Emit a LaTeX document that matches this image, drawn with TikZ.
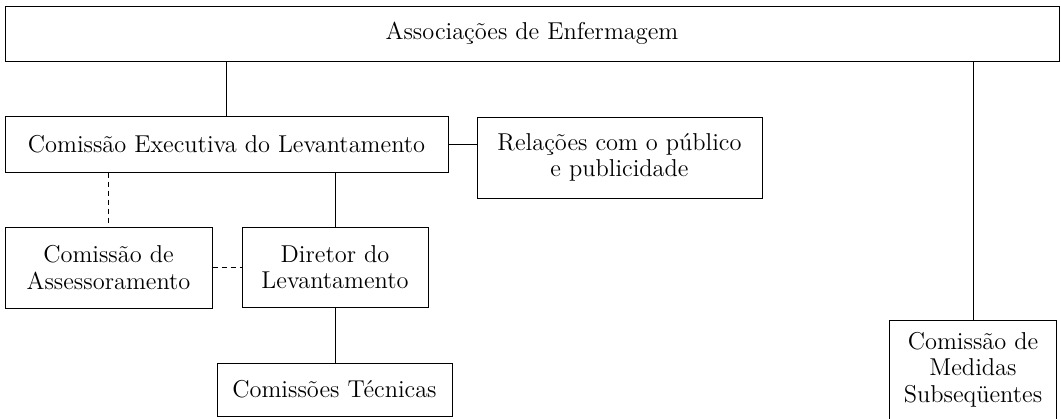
\documentclass[tikz,border=0pt]{standalone}
\usepackage{fontspec}
\begin{document}
\begin{tikzpicture}[x=0.5pt,y=-0.5pt,
  box/.style={draw, line width=0.5pt, rectangle, inner sep=0pt, align=center,
    font=\fontsize{12.2}{13.2}\selectfont},
  link/.style={line width=0.5pt},
  dlink/.style={line width=0.5pt, dash pattern=on 2.5pt off 2pt}]
\useasboundingbox (0,0) rectangle (1061,418);
\node[box, minimum width=527pt, minimum height=27.5pt] (A) at (532,33.5) {Associações de Enfermagem};
\node[box, minimum width=221.5pt, minimum height=28pt] (E) at (226.5,144) {Comissão Executiva do Levantamento};
\node[box, minimum width=142.5pt, minimum height=40.5pt] (R) at (619.5,157.5) {Relações com o público\\e publicidade};
\node[box, minimum width=103.5pt, minimum height=40.5pt] (S) at (108.5,267.5) {Comissão de\\Assessoramento};
\node[box, minimum width=93pt, minimum height=40pt] (D) at (335,267) {Diretor do\\Levantamento};
\node[box, minimum width=117.5pt, minimum height=26.5pt] (T) at (334.5,389.5) {Comissões Técnicas};
\node[box, draw=none, minimum width=83pt, minimum height=48.5pt] (M) at (973,369.5) {Comissão de\\Medidas\\Subseqüentes};
\draw[link] (M.south west) -- (M.north west) -- (M.north east) -- (M.south east);
\draw[link] (A.south -| E.north) -- (E.north);
\draw[link] (A.south -| M.north) -- (M.north);
\draw[link] (E.east) -- (E.east -| R.west);
\draw[dlink] (E.south -| S.north) -- (S.north);
\draw[link] (E.south -| D.north) -- (D.north);
\draw[dlink] (S.east) -- (S.east -| D.west);
\draw[link] (D.south) -- (D.south |- T.north);
\end{tikzpicture}
\end{document}
